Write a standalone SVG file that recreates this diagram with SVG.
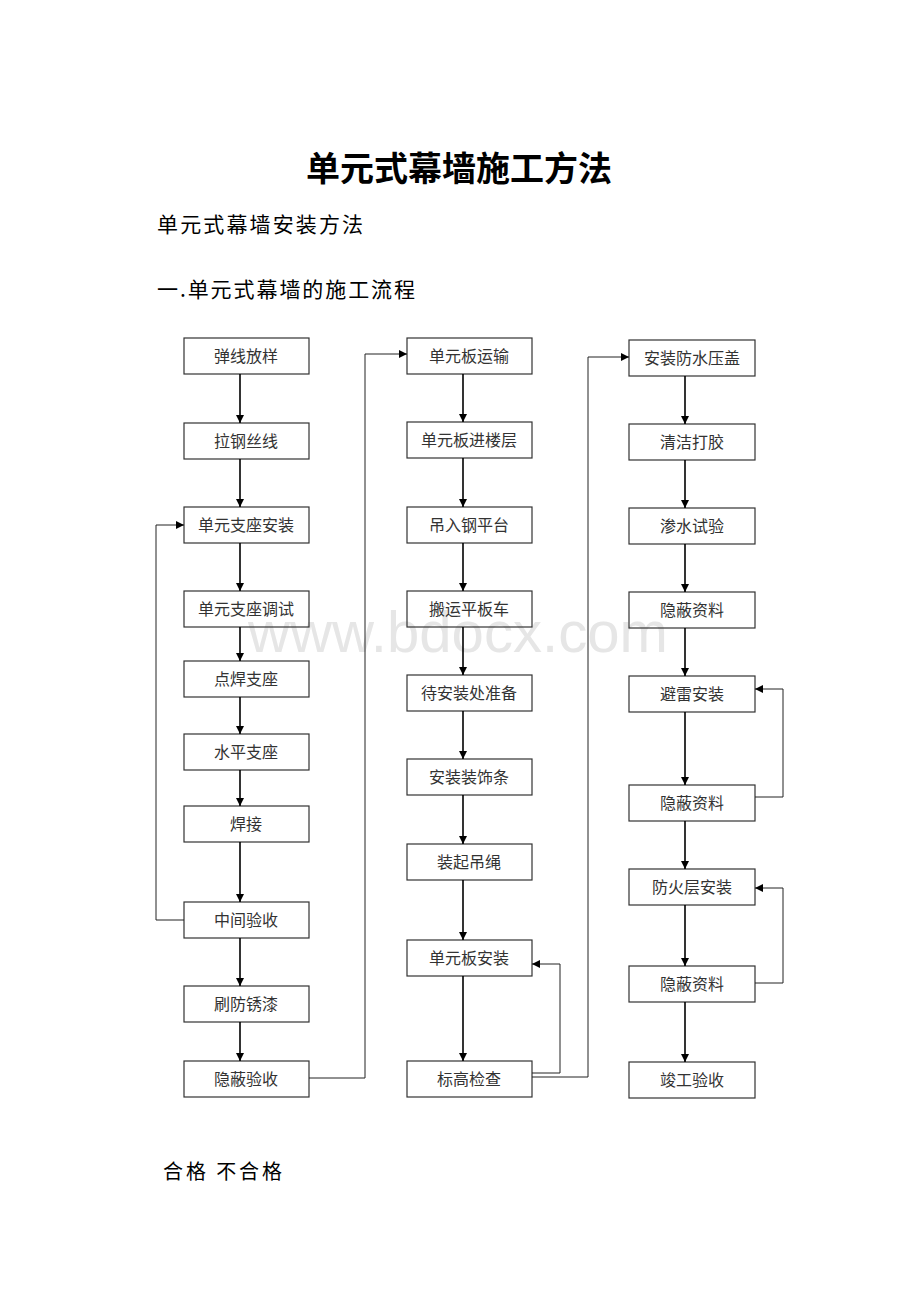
<svg xmlns="http://www.w3.org/2000/svg" width="920" height="1302" viewBox="0 0 920 1302">
<style>
.box{fill:none;stroke:#333;stroke-width:1.2}
.lbl{font-family:"Noto Sans CJK SC","Liberation Serif",sans-serif;font-size:16px;fill:#333;text-anchor:middle}
.arr{fill:none;stroke:#000;stroke-width:1.6}
.con{fill:none;stroke:#222;stroke-width:1}
.h{font-family:"Noto Sans CJK SC",sans-serif;fill:#000}
</style>
<defs>
<marker id="ah" markerUnits="userSpaceOnUse" viewBox="0 0 10 10" refX="10" refY="5" markerWidth="9" markerHeight="8" orient="auto">
<path d="M0,0 L10,5 L0,10 z" fill="#000"/>
</marker>
</defs>
<rect width="920" height="1302" fill="#fff"/>
<text x="248" y="652" font-family="Liberation Sans, sans-serif" font-size="58" fill="#e6e6e6" textLength="420" lengthAdjust="spacingAndGlyphs">www.bdocx.com</text>
<g id="headings">
<text class="h" x="459" y="181" font-size="34" font-weight="700" text-anchor="middle">单元式幕墙施工方法</text>
<text class="h" x="157" y="232" font-size="21" textLength="206" lengthAdjust="spacing">单元式幕墙安装方法</text>
<text class="h" x="157" y="297" font-size="21" textLength="258" lengthAdjust="spacing">一.单元式幕墙的施工流程</text>
<text class="h" x="163" y="1179" font-size="20" textLength="119" lengthAdjust="spacing">合格 不合格</text>
</g>
<g id="col1">
<g id="n1"><rect class="box" x="184" y="338" width="125" height="36"/><text class="lbl" x="246" y="362">弹线放样</text></g>
<g id="n2"><rect class="box" x="184" y="423" width="125" height="36"/><text class="lbl" x="246" y="447">拉钢丝线</text></g>
<g id="n3"><rect class="box" x="184" y="507" width="125" height="36"/><text class="lbl" x="246" y="531">单元支座安装</text></g>
<g id="n4"><rect class="box" x="184" y="591" width="125" height="36"/><text class="lbl" x="246" y="615">单元支座调试</text></g>
<g id="n5"><rect class="box" x="184" y="661" width="125" height="36"/><text class="lbl" x="246" y="685">点焊支座</text></g>
<g id="n6"><rect class="box" x="184" y="734" width="125" height="36"/><text class="lbl" x="246" y="758">水平支座</text></g>
<g id="n7"><rect class="box" x="184" y="806" width="125" height="36"/><text class="lbl" x="246" y="830">焊接</text></g>
<g id="n8"><rect class="box" x="184" y="902" width="125" height="36"/><text class="lbl" x="246" y="926">中间验收</text></g>
<g id="n9"><rect class="box" x="184" y="986" width="125" height="36"/><text class="lbl" x="246" y="1010">刷防锈漆</text></g>
<g id="n10"><rect class="box" x="184" y="1061" width="125" height="36"/><text class="lbl" x="246" y="1085">隐蔽验收</text></g>
</g>
<g id="col2">
<g id="m1"><rect class="box" x="407" y="338" width="125" height="36"/><text class="lbl" x="469" y="362">单元板运输</text></g>
<g id="m2"><rect class="box" x="407" y="422" width="125" height="36"/><text class="lbl" x="469" y="446">单元板进楼层</text></g>
<g id="m3"><rect class="box" x="407" y="507" width="125" height="36"/><text class="lbl" x="469" y="531">吊入钢平台</text></g>
<g id="m4"><rect class="box" x="407" y="591" width="125" height="36"/><text class="lbl" x="469" y="615">搬运平板车</text></g>
<g id="m5"><rect class="box" x="407" y="675" width="125" height="36"/><text class="lbl" x="469" y="699">待安装处准备</text></g>
<g id="m6"><rect class="box" x="407" y="759" width="125" height="36"/><text class="lbl" x="469" y="783">安装装饰条</text></g>
<g id="m7"><rect class="box" x="407" y="844" width="125" height="36"/><text class="lbl" x="469" y="868">装起吊绳</text></g>
<g id="m8"><rect class="box" x="407" y="940" width="125" height="36"/><text class="lbl" x="469" y="964">单元板安装</text></g>
<g id="m9"><rect class="box" x="407" y="1061" width="125" height="36"/><text class="lbl" x="469" y="1085">标高检查</text></g>
</g>
<g id="col3">
<g id="r1"><rect class="box" x="629" y="340" width="126" height="36"/><text class="lbl" x="692" y="364">安装防水压盖</text></g>
<g id="r2"><rect class="box" x="629" y="424" width="126" height="36"/><text class="lbl" x="692" y="448">清洁打胶</text></g>
<g id="r3"><rect class="box" x="629" y="508" width="126" height="36"/><text class="lbl" x="692" y="532">渗水试验</text></g>
<g id="r4"><rect class="box" x="629" y="592" width="126" height="36"/><text class="lbl" x="692" y="616">隐蔽资料</text></g>
<g id="r5"><rect class="box" x="629" y="676" width="126" height="36"/><text class="lbl" x="692" y="700">避雷安装</text></g>
<g id="r6"><rect class="box" x="629" y="785" width="126" height="36"/><text class="lbl" x="692" y="809">隐蔽资料</text></g>
<g id="r7"><rect class="box" x="629" y="869" width="126" height="36"/><text class="lbl" x="692" y="893">防火层安装</text></g>
<g id="r8"><rect class="box" x="629" y="966" width="126" height="36"/><text class="lbl" x="692" y="990">隐蔽资料</text></g>
<g id="r9"><rect class="box" x="629" y="1062" width="126" height="36"/><text class="lbl" x="692" y="1086">竣工验收</text></g>
</g>
<g id="connectors">
<path class="arr" marker-end="url(#ah)" d="M240,374 V423"/>
<path class="arr" marker-end="url(#ah)" d="M240,459 V507"/>
<path class="arr" marker-end="url(#ah)" d="M240,543 V591"/>
<path class="arr" marker-end="url(#ah)" d="M240,627 V661"/>
<path class="arr" marker-end="url(#ah)" d="M240,697 V734"/>
<path class="arr" marker-end="url(#ah)" d="M240,770 V806"/>
<path class="arr" marker-end="url(#ah)" d="M240,842 V902"/>
<path class="arr" marker-end="url(#ah)" d="M240,938 V986"/>
<path class="arr" marker-end="url(#ah)" d="M240,1022 V1061"/>
<path class="con" marker-end="url(#ah)" d="M184,920 H156 V525 H184"/>
<path class="con" marker-end="url(#ah)" d="M309,1078 H365 V354 H407"/>
<path class="arr" marker-end="url(#ah)" d="M463,374 V422"/>
<path class="arr" marker-end="url(#ah)" d="M463,458 V507"/>
<path class="arr" marker-end="url(#ah)" d="M463,543 V591"/>
<path class="arr" marker-end="url(#ah)" d="M463,627 V675"/>
<path class="arr" marker-end="url(#ah)" d="M463,711 V759"/>
<path class="arr" marker-end="url(#ah)" d="M463,795 V844"/>
<path class="arr" marker-end="url(#ah)" d="M463,880 V940"/>
<path class="arr" marker-end="url(#ah)" d="M463,976 V1061"/>
<path class="con" marker-end="url(#ah)" d="M532,1073 H560 V964 H532"/>
<path class="con" marker-end="url(#ah)" d="M532,1077 H588 V357 H629"/>
<path class="arr" marker-end="url(#ah)" d="M685,376 V424"/>
<path class="arr" marker-end="url(#ah)" d="M685,460 V508"/>
<path class="arr" marker-end="url(#ah)" d="M685,544 V592"/>
<path class="arr" marker-end="url(#ah)" d="M685,628 V676"/>
<path class="arr" marker-end="url(#ah)" d="M685,712 V785"/>
<path class="arr" marker-end="url(#ah)" d="M685,821 V869"/>
<path class="arr" marker-end="url(#ah)" d="M685,905 V966"/>
<path class="arr" marker-end="url(#ah)" d="M685,1002 V1062"/>
<path class="con" marker-end="url(#ah)" d="M755,797 H783 V689 H755"/>
<path class="con" marker-end="url(#ah)" d="M755,983 H783 V888 H755"/>
</g>
</svg>
